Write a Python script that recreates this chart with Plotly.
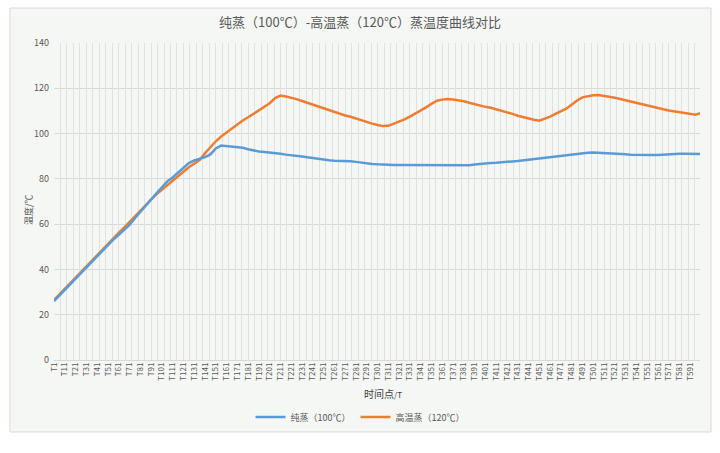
import plotly.graph_objects as go

# time sample index (T1 ... T600), read every 5 samples
time_idx = list(range(1, 597, 5)) + [600]

# 纯蒸（100℃）
pure_steam = [
    26.0, 28.5, 31.0, 33.4, 35.9, 38.5, 41.0, 43.5, 46.0, 48.5,
    51.0, 53.2, 55.3, 57.3, 59.7, 62.6, 65.5, 68.2, 70.9, 73.6,
    76.3, 78.9, 80.6, 82.8, 85.1, 87.0, 88.1, 88.9, 89.6, 90.8,
    93.4, 94.7, 94.5, 94.0, 93.9, 93.7, 93.1, 92.5, 92.1, 91.9,
    91.7, 91.5, 91.1, 90.7, 90.5, 90.2, 89.9, 89.5, 89.1, 88.8,
    88.5, 88.2, 88.0, 88.0, 87.9, 87.8, 87.5, 87.1, 86.8, 86.6,
    86.4, 86.2, 86.1, 86.1, 86.1, 86.1, 86.1, 86.1, 86.1, 86.0,
    85.9, 85.8, 85.8, 85.8, 85.8, 85.8, 85.8, 86.0, 86.3, 86.6,
    86.9, 87.0, 87.1, 87.2, 87.5, 87.7, 87.9, 88.2, 88.4, 88.7,
    89.0, 89.4, 89.6, 89.9, 90.2, 90.4, 90.6, 90.9, 91.2, 91.5,
    91.6, 91.5, 91.4, 91.4, 91.3, 91.1, 90.9, 90.6, 90.5, 90.5,
    90.5, 90.5, 90.5, 90.7, 90.9, 91.1, 91.1, 91.1, 91.0, 91.0,
    91.0,
]

# 高温蒸（120℃）
high_steam = [
    26.5, 29.0, 31.5, 34.0, 36.5, 39.0, 41.5, 43.9, 46.3, 48.8,
    51.2, 53.7, 56.1, 58.5, 61.0, 63.5, 66.0, 68.5, 71.0, 73.2,
    75.2, 77.2, 79.1, 81.5, 83.5, 85.1, 86.7, 88.3, 91.3, 94.0,
    96.6, 98.7, 100.5, 102.4, 104.2, 105.8, 107.2, 108.7, 110.1, 111.7,
    113.4, 115.7, 116.8, 116.4, 115.9, 115.2, 114.4, 113.6, 112.7, 111.8,
    110.9, 110.1, 109.3, 108.6, 108.0, 107.4, 106.6, 105.7, 104.9, 104.4,
    103.8, 103.3, 103.4, 104.3, 105.1, 106.3, 107.5, 108.8, 110.2, 111.6,
    113.1, 114.5, 115.0, 115.3, 115.0, 114.7, 114.3, 113.6, 112.9, 112.3,
    111.8, 111.4, 110.8, 110.1, 109.4, 108.7, 107.9, 107.2, 106.5, 106.1,
    105.7, 106.5, 107.5, 108.7, 109.9, 111.0, 112.7, 114.6, 116.0, 116.6,
    116.9, 117.0, 116.7, 116.3, 115.8, 115.3, 114.7, 114.1, 113.4, 112.9,
    112.3, 111.7, 111.2, 110.7, 110.2, 109.8, 109.4, 108.9, 108.4, 108.3,
    109.0,
]

tick_vals = list(range(1, 592, 10))
tick_text = [f"T{v}" for v in tick_vals]

series_names = ["纯蒸（100℃）", "高温蒸（120℃）"]
series_colors = ["#5b9bd5", "#ed7d31"]

FONT = "Noto Sans CJK SC"
TXT = "#595959"
GRID = "#d9d9d9"
FRAME_BG = "#f5f7f4"

fig = go.Figure()
fig.add_trace(go.Scatter(x=time_idx, y=pure_steam, mode="lines", name=series_names[0],
                         line=dict(color=series_colors[0], width=2.5), xaxis="x2"))
fig.add_trace(go.Scatter(x=time_idx, y=high_steam, mode="lines", name=series_names[1],
                         line=dict(color=series_colors[1], width=2.5)))

W, H = 720, 453
L, R, T, B = 54, 20, 43, 93
pw, ph = W - L - R, H - T - B

def px(xp):
    return (xp - L) / pw

def py(yp):
    return (H - B - yp) / ph

fig.update_layout(
    width=W, height=H,
    margin=dict(l=L, r=R, t=T, b=B),
    paper_bgcolor="white",
    plot_bgcolor=FRAME_BG,
    font=dict(family=FONT, color=TXT, size=9),
    title=dict(text="纯蒸（100℃）-高温蒸（120℃）蒸温度曲线对比",
               x=0.5, xref="container", xanchor="center",
               y=1 - 22 / H, yref="container", yanchor="middle",
               font=dict(size=13, color=TXT, family=FONT)),
    xaxis=dict(range=[1, 600], tickmode="array", tickvals=tick_vals, ticktext=tick_text,
               tickangle=-90, tickfont=dict(size=8, color=TXT), showgrid=False,
               zeroline=False, showline=False, ticks=""),
    xaxis2=dict(range=[1, 600], overlaying="x", tick0=1, dtick=6, showticklabels=False,
                showgrid=True, gridcolor="#e1e1e1", gridwidth=1, zeroline=False, ticks=""),
    yaxis=dict(range=[0, 140], dtick=20, showgrid=True, gridcolor=GRID, gridwidth=1,
               zeroline=True, zerolinecolor=GRID, zerolinewidth=1,
               tickfont=dict(size=9, color=TXT), ticks="", ticklabelstandoff=4),
    showlegend=True,
    legend=dict(orientation="h", x=px(360), xanchor="center", y=py(417), yanchor="middle",
                bgcolor="rgba(0,0,0,0)", font=dict(size=9, color=TXT, family=FONT),
                itemwidth=30),
    hovermode=False,
)

fig.add_shape(type="rect", xref="paper", yref="paper", layer="below",
              x0=px(10), x1=px(711), y0=py(432), y1=py(8),
              fillcolor=FRAME_BG, line=dict(color="#d9d9d9", width=1))

fig.add_annotation(text="温度/℃", xref="paper", yref="paper", x=px(28), y=py(210),
                   textangle=-90, showarrow=False, font=dict(size=9, color=TXT, family=FONT),
                   xanchor="center", yanchor="middle")
fig.add_annotation(text="时间点<span style='font-size:8px'>/T</span>", xref="paper", yref="paper",
                   x=px(383), y=py(393), showarrow=False,
                   font=dict(size=10, color="#404040", family=FONT),
                   xanchor="center", yanchor="middle")

fig.write_html("out.html")
